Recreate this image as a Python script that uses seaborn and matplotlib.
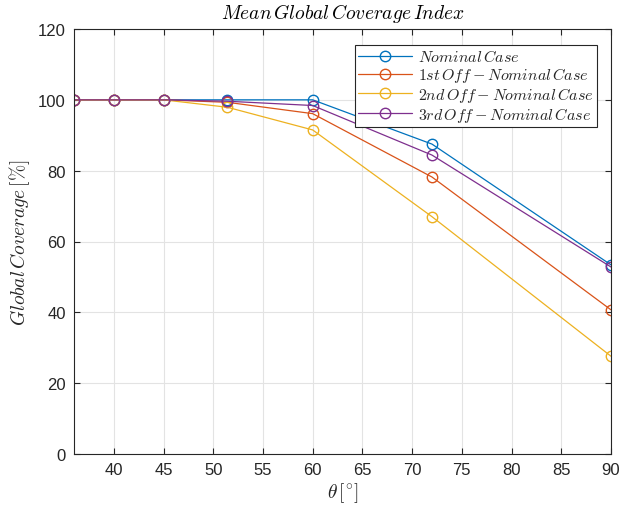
import matplotlib
matplotlib.use("Agg")
import matplotlib.pyplot as plt
import seaborn as sns
import pandas as pd

theta = [36, 40, 45, 360 / 7, 60, 72, 90]
nominal = [100, 100, 100, 100, 100, 87.5, 53.4]
off1 = [100, 100, 100, 99.3, 96.1, 78.2, 40.7]
off2 = [100, 100, 100, 97.9, 91.5, 67.0, 27.6]
off3 = [100, 100, 100, 99.6, 98.4, 84.4, 52.8]
labels = [r"$Nominal\,Case$", r"$1st\,Off-Nominal\,Case$",
          r"$2nd\,Off-Nominal\,Case$", r"$3rd\,Off-Nominal\,Case$"]
colors = ["#0072BD", "#D95319", "#EDB120", "#7E2F8E"]

rows = []
for lab, ys in zip(labels, [nominal, off1, off2, off3]):
    for x, y in zip(theta, ys):
        rows.append({"theta": x, "cov": y, "case": lab})
df = pd.DataFrame(rows)

sns.set_style("white")
plt.rcParams["font.family"] = ["Liberation Sans", "DejaVu Sans"]
plt.rcParams["mathtext.fontset"] = "cm"

fig = plt.figure(figsize=(6.41, 5.06), dpi=100)
ax = fig.add_axes([74 / 641, 51 / 506, 537 / 641, 425 / 506])

sns.lineplot(data=df, x="theta", y="cov", hue="case", palette=colors,
             hue_order=labels, marker="o", markersize=7.5, markerfacecolor="none",
             markeredgewidth=1.0, linewidth=0.9, ax=ax)
for line, c in zip(ax.get_lines(), colors):
    line.set_markeredgecolor(c)

ax.set_xlim(36, 90)
ax.set_ylim(0, 120)
ax.set_xticks(range(40, 91, 5))
ax.set_yticks(range(0, 121, 20))
ax.grid(True, color="#e3e3e3", linewidth=0.8)
ax.tick_params(direction="in", length=4, labelsize=12, colors="#262626",
               top=True, right=True, bottom=True, left=True, pad=6)
for s in ax.spines.values():
    s.set_color("#262626")
    s.set_linewidth(0.8)
ax.set_xlabel(r"$\theta\,[^{\circ}]$", fontsize=14, color="#262626", labelpad=2)
ax.set_ylabel(r"$Global\,Coverage\,[\%]$", fontsize=14, color="#262626", labelpad=4)
ax.set_title(r"$Mean\,Global\,Coverage\,Index$", fontsize=14, color="#000000", pad=8)

handles, _ = ax.get_legend_handles_labels()
for h, c in zip(handles, colors):
    h.set_markeredgecolor(c)
    h.set_markerfacecolor("none")
leg = ax.legend(handles=handles, labels=labels, loc="upper right",
                bbox_to_anchor=(0.974, 0.962), fontsize=11.5, frameon=True,
                fancybox=False, edgecolor="#262626", framealpha=1,
                handlelength=3.4, borderpad=0.2, labelspacing=0.05,
                handletextpad=0.4, borderaxespad=0)
leg.get_frame().set_linewidth(0.8)

fig.savefig("out.png", dpi=100)
